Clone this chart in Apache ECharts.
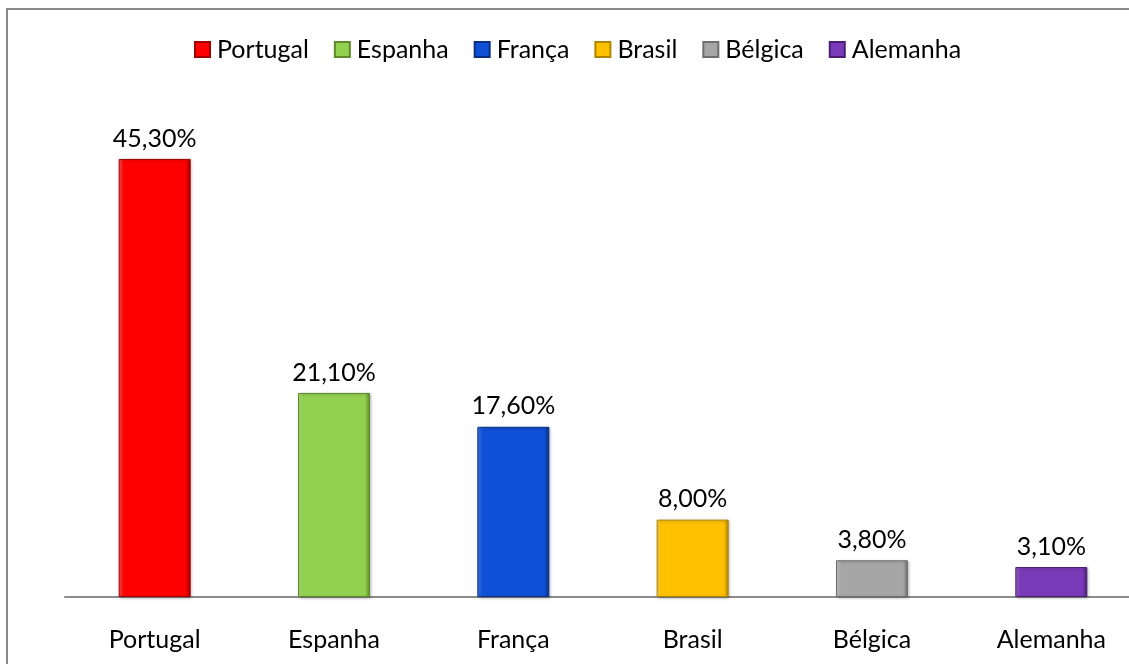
<!DOCTYPE html>
<html>
<head>
<meta charset="utf-8">
<script src="https://cdn.jsdelivr.net/npm/echarts@6/dist/echarts.min.js"></script>
<style>
  html, body { margin: 0; padding: 0; background: #fff; }
  #main { width: 1129px; height: 664px; }
</style>
</head>
<body>
<div id="main"></div>
<script>
// dados do gráfico
var paises = ['Portugal', 'Espanha', 'França', 'Brasil', 'Bélgica', 'Alemanha'];
var valores = [45.3, 21.1, 17.6, 8.0, 3.8, 3.1];
var cores = ['#ff0000', '#92d050', '#1050d6', '#ffc000', '#a6a6a6', '#7a3bb8'];
var claros = ['#ff5a5a', '#b4e27e', '#4a7fe8', '#ffd54a', '#c8c8c8', '#9a66d0'];
var bordas = ['#a00000', '#5e8a2a', '#0a2f80', '#b08500', '#6e6e6e', '#4a1f73'];

var fonte = 'Lato, "Open Sans", sans-serif';

var myChart = echarts.init(document.getElementById('main'));

// uma série por país, para a legenda mostrar cada cor
var series = paises.map(function (nome, i) {
  var dados = paises.map(function (p, j) { return j === i ? valores[i] : '-'; });
  return {
    name: nome,
    type: 'bar',
    stack: 'total',
    barWidth: 72,
    data: dados,
    itemStyle: {
      color: {
        type: 'linear', x: 0, y: 0, x2: 1, y2: 0,
        colorStops: [
          { offset: 0, color: claros[i] },
          { offset: 0.07, color: cores[i] },
          { offset: 0.93, color: cores[i] },
          { offset: 1, color: bordas[i] }
        ]
      },
      borderColor: bordas[i],
      borderWidth: 1,
      shadowColor: 'rgba(0,0,0,0.25)',
      shadowBlur: 3,
      shadowOffsetX: 1,
      shadowOffsetY: 1
    },
    label: {
      show: true,
      position: 'top',
      distance: 8,
      color: '#000',
      fontSize: 25,
      fontFamily: fonte,
      formatter: function (p) {
        return p.value.toFixed(2).replace('.', ',') + '%';
      }
    }
  };
});

var option = {
  animation: false,
  color: cores,
  textStyle: { fontFamily: fonte },
  graphic: [{
    type: 'rect',
    shape: { x: 7, y: 9, width: 1300, height: 1000 },
    style: { fill: 'none', stroke: '#8a8a8a', lineWidth: 2 },
    silent: true
  }],
  legend: {
    top: 32,
    left: 189,
    itemWidth: 15,
    itemHeight: 15,
    itemGap: 25,
    icon: 'rect',
    textStyle: { fontSize: 25, color: '#000', fontFamily: fonte, padding: [0, 0, 0, 2] },
    data: paises
  },
  grid: {
    left: 65,
    width: 1076,
    top: 113.5,
    bottom: 67,
    outerBoundsMode: 'none',
    containLabel: false
  },
  xAxis: {
    type: 'category',
    data: paises,
    axisTick: { show: false },
    axisLine: { lineStyle: { color: '#8c8c8c', width: 2 } },
    axisLabel: {
      color: '#000',
      fontSize: 25,
      fontFamily: fonte,
      margin: 30
    }
  },
  yAxis: {
    type: 'value',
    min: 0,
    max: 50,
    show: false,
    splitLine: { show: false }
  },
  series: series
};

myChart.setOption(option);
</script>
</body>
</html>
